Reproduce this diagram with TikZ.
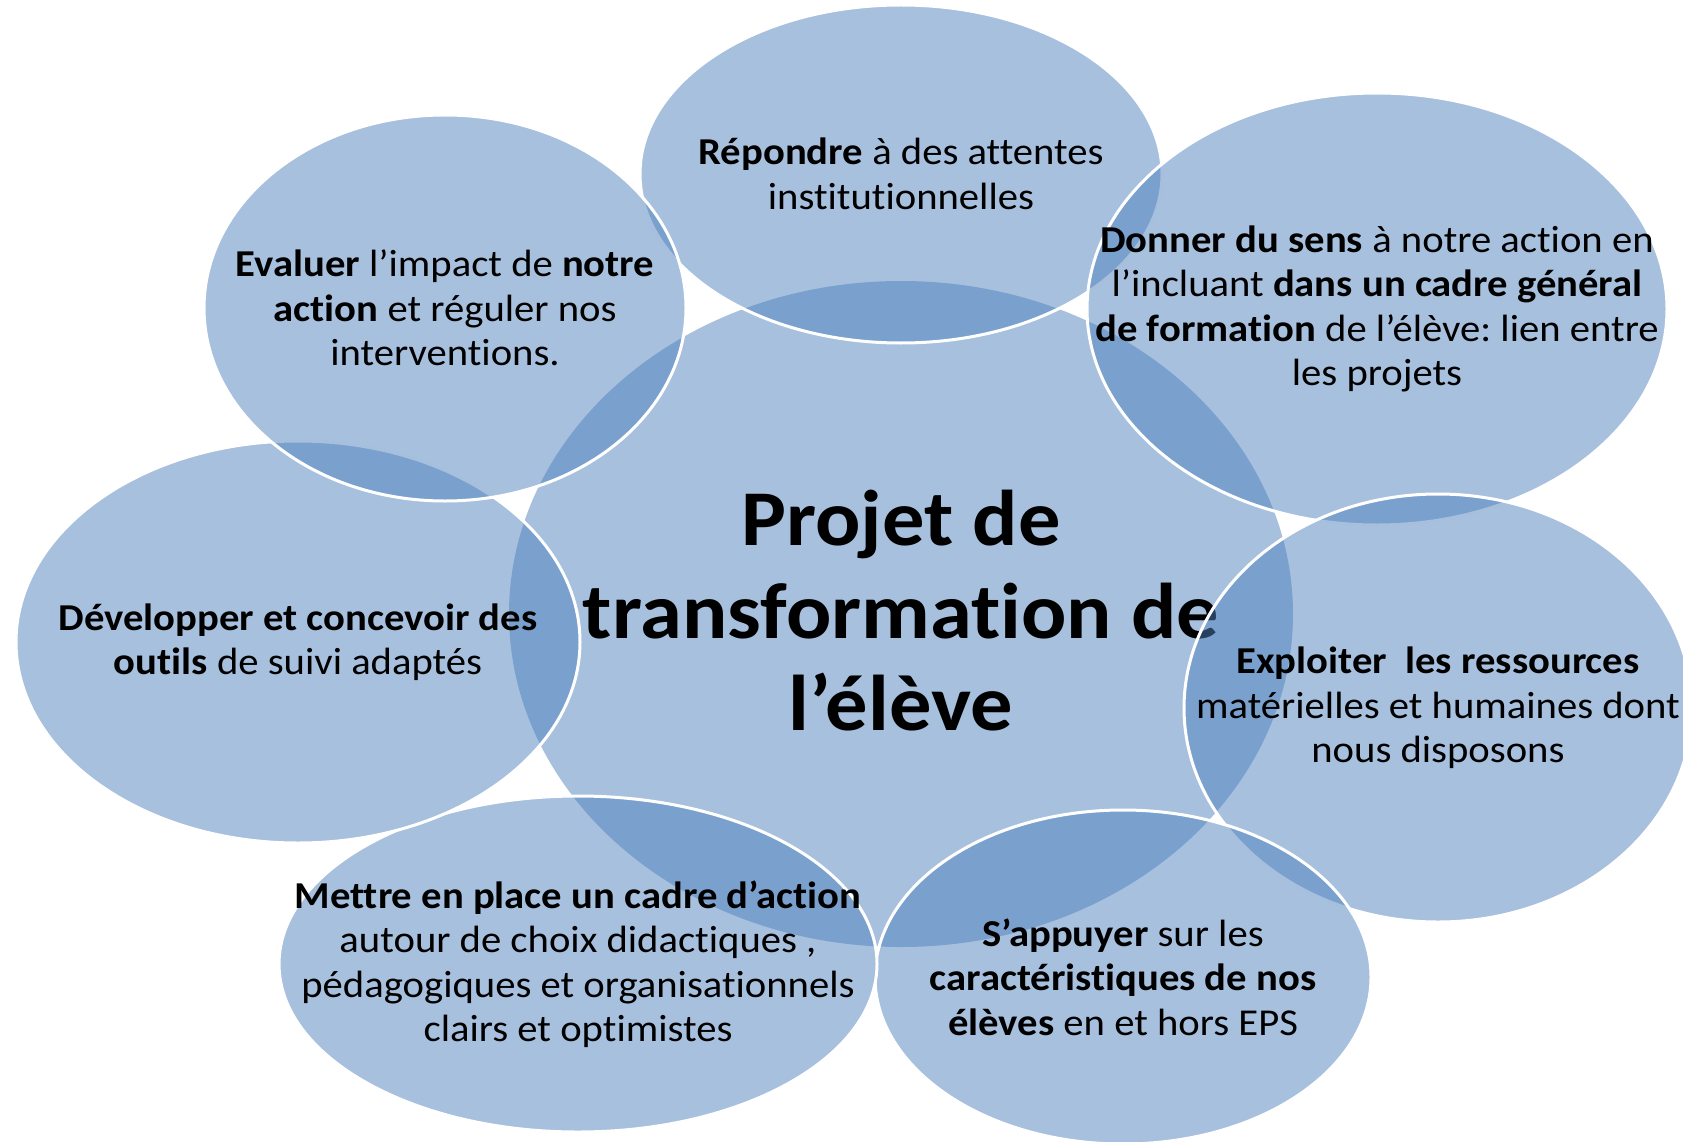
\documentclass[tikz,border=0pt]{standalone}
\usepackage{fontspec}
\setmainfont{Carlito}[Ligatures=NoCommon, FakeStretch=1.07]
\frenchspacing
\usetikzlibrary{shapes.geometric}
\definecolor{venn}{HTML}{4F81BD}
\tikzset{
  petal/.style={ellipse, inner sep=0pt, fill=venn, fill opacity=0.5, draw=white, draw opacity=1, line width=3pt},
  petaltext/.style={align=center, text=black, inner sep=0pt, font=\fontsize{38}{44.5}\selectfont},
  hubtext/.style={align=center, text=black, inner sep=0pt, font=\fontsize{79}{92.5}\selectfont\bfseries}
}
\begin{document}
\begin{tikzpicture}[x=1pt,y=-1pt]
\useasboundingbox (0,0) rectangle (1683,1142);
% centre
\node[petal, draw=none, minimum width=784pt, minimum height=666pt] (hub) at (901,614) {};
\node[hubtext] (hubt) at (901,611) {Projet de\\transformation de\\l’élève};
% top
\node[petal, minimum width=522pt, minimum height=338pt] (top) at (901,174) {};
\node[petaltext] (topt) at (top.center) {\textbf{Répondre} à des attentes\\institutionnelles};
% top right
\node[petal, minimum width=580pt, minimum height=432pt] (tr) at (1377,309) {};
\node[petaltext] (trt) at (tr.center) {\textbf{Donner du sens} à notre action en\\l’incluant \textbf{dans un cadre général}\\\textbf{de formation} de l’élève: lien entre\\les projets};
% right
\node[petal, minimum width=508pt, minimum height=428pt] (rt) at (1438,708) {};
\node[petaltext] (rtt) at (rt.center) {\textbf{Exploiter\ \ les ressources}\\matérielles et humaines dont\\nous disposons};
% bottom right
\node[petal, minimum width=496pt, minimum height=334pt] (br) at (1123,977) {};
\node[petaltext] (brt) at (br.center) {\textbf{S’appuyer} sur les\\\textbf{caractéristiques de nos}\\\textbf{élèves} en et hors EPS};
% bottom left
\node[petal, minimum width=598pt, minimum height=336pt] (bl) at (578,964) {};
\node[petaltext] (blt) at (bl.center) {\textbf{Mettre en place un cadre d’action}\\autour de choix didactiques ,\\pédagogiques et organisationnels\\clairs et optimistes};
% left
\node[petal, minimum width=564pt, minimum height=402pt] (lt) at (298,642) {};
\node[petaltext] (ltt) at (lt.center) {\textbf{Développer et concevoir des}\\\textbf{outils} de suivi adaptés};
% top left
\node[petal, minimum width=482pt, minimum height=386pt] (tl) at (445,308) {};
\node[petaltext] (tlt) at (tl.center) {\textbf{Evaluer} l’impact de \textbf{notre}\\\textbf{action} et réguler nos\\interventions.};
\end{tikzpicture}
\end{document}
